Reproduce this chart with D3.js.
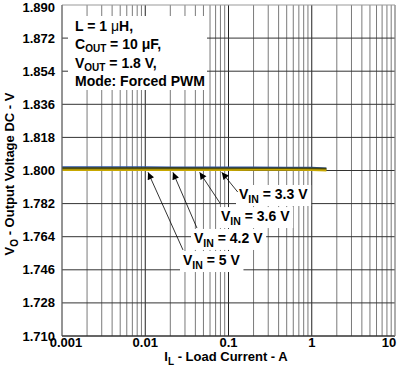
<!DOCTYPE html>
<html><head><meta charset="utf-8">
<script src="https://cdn.jsdelivr.net/npm/d3@7"></script>
<style>
html,body{margin:0;padding:0;background:#fff;}
text{font-family:"Liberation Sans",Arial,sans-serif;font-weight:bold;fill:#000;}
</style></head>
<body><svg id="c" width="409" height="379"></svg>
<script>
// ---- data ----
const currents = [0.001, 0.002, 0.005, 0.01, 0.02, 0.05, 0.1, 0.2, 0.5, 1, 1.5];
const vin5   = [1.8019, 1.8019, 1.8019, 1.8019, 1.8018, 1.8018, 1.8018, 1.8018, 1.8017, 1.8016, 1.8013];
const vin42  = [1.8013, 1.8013, 1.8013, 1.8013, 1.8013, 1.8012, 1.8012, 1.8012, 1.8012, 1.8011, 1.8010];
const vin36  = [1.8007, 1.8007, 1.8007, 1.8007, 1.8007, 1.8007, 1.8007, 1.8007, 1.8007, 1.8006, 1.8005];
const vin33  = [1.8002, 1.8002, 1.8002, 1.8002, 1.8002, 1.8002, 1.8002, 1.8003, 1.8003, 1.8002, 1.8000];
const seriesNames = ["5 V", "4.2 V", "3.6 V", "3.3 V"];
const seriesColors = ["#2a55a8", "#3a3a0c", "#5e5a14", "#c8a800"];
const yTicks = [1.710, 1.728, 1.746, 1.764, 1.782, 1.800, 1.818, 1.836, 1.854, 1.872, 1.890];
const xTicks = [0.001, 0.01, 0.1, 1, 10];
const xTickLabels = ["0.001", "0.01", "0.1", "1", "10"];
const noteLines = [["L = 1 ", "\u03bc", "H,"], ["C", "OUT", " = 10 \u03bcF,"], ["V", "OUT", " = 1.8 V,"], ["Mode: Forced PWM"]];
// callouts: label, arrow tip (current, V), arrow tail (current, V), label start (current, V baseline)
const calloutLabels = ["3.3 V", "3.6 V", "4.2 V", "5 V"];
const calloutTip  = [[0.083, 1.7990], [0.045, 1.7990], [0.0215, 1.7990], [0.0108, 1.7990]];
const calloutTail = [[0.129, 1.7883], [0.079, 1.7823], [0.0418, 1.7687], [0.0284, 1.7568]];
const calloutText = [[0.1337, 1.7845], [0.0813, 1.7725], [0.0385, 1.7606], [0.0284, 1.7486]];

// ---- layout ----
const svg = d3.select("#c");
const L = 62, R = 395, T = 5, B = 336;
const x = d3.scaleLog().domain([0.001, 10]).range([L, R]);
const y = d3.scaleLinear().domain([1.710, 1.890]).range([B, T]);

svg.append("defs").append("marker").attr("id","ah").attr("viewBox","0 0 10 10")
  .attr("refX",10).attr("refY",5).attr("markerWidth",9).attr("markerHeight",7)
  .attr("markerUnits","userSpaceOnUse").attr("orient","auto")
  .append("path").attr("d","M0,0L10,5L0,10z").attr("fill","#000");

// minor vertical grid
const minors = [];
for (let d = -3; d < 1; d++) for (let k = 2; k <= 9; k++) minors.push(k * Math.pow(10, d));
const g = svg.append("g");
g.selectAll(".mv").data(minors).enter().append("line")
  .attr("x1", d => x(d)).attr("x2", d => x(d)).attr("y1", T).attr("y2", B)
  .attr("stroke", "#7a7a7a").attr("stroke-width", 1);
g.selectAll(".dv").data(xTicks).enter().append("line")
  .attr("x1", d => x(d)).attr("x2", d => x(d)).attr("y1", T).attr("y2", B)
  .attr("stroke", d => (d === 0.001 || d === 10) ? "#888" : "#222").attr("stroke-width", 1);
g.selectAll(".hy").data(yTicks).enter().append("line")
  .attr("x1", L).attr("x2", R).attr("y1", d => y(d)).attr("y2", d => y(d))
  .attr("stroke", d => d === 1.890 ? "#999" : "#333").attr("stroke-width", 1);

// note box
svg.append("rect").attr("x", 68).attr("y", 16).attr("width", 139).attr("height", 74).attr("fill", "#fff");
noteLines.forEach((ln, i) => {
  const t = svg.append("text").attr("x", 75).attr("y", 31 + i * 18.3).attr("font-size", 14);
  if (ln.length === 1) t.append("tspan").text(ln[0]);
  else if (i === 0) { t.append("tspan").text(ln[0]); t.append("tspan").attr("font-weight","normal").text(ln[1]); t.append("tspan").text(ln[2]); }
  else {
    t.append("tspan").text(ln[0]);
    t.append("tspan").attr("font-size", 10).attr("dy", 3).text(ln[1]);
    t.append("tspan").attr("dy", -3).text(ln[2]);
  }
});

// series
const line = d3.line().x(d => x(d[0])).y(d => y(d[1]));
[vin5, vin42, vin36, vin33].forEach((vals, i) => {
  svg.append("path").datum(currents.map((c, j) => [c, vals[j]]))
    .attr("d", line).attr("fill", "none").attr("stroke", seriesColors[i]).attr("stroke-width", i === 0 ? 1.4 : 1.8);
});

// callouts
calloutLabels.forEach((lab, i) => {
  const tx = x(calloutText[i][0]), ty = y(calloutText[i][1]);
  const t = svg.append("text").attr("x", tx).attr("y", ty).attr("font-size", 14);
  t.append("tspan").text("V");
  t.append("tspan").attr("font-size", 10.5).attr("dy", 4).text("IN");
  t.append("tspan").attr("dy", -4).text(" = " + lab);
  const bb = t.node().getBBox();
  svg.insert("rect", () => t.node()).attr("x", bb.x - 3).attr("y", bb.y - 1)
    .attr("width", bb.width + 6).attr("height", bb.height + 2).attr("fill", "#fff");
  svg.append("line").attr("x1", x(calloutTail[i][0])).attr("y1", y(calloutTail[i][1]))
    .attr("x2", x(calloutTip[i][0])).attr("y2", y(calloutTip[i][1]))
    .attr("stroke", "#000").attr("stroke-width", 0.8).attr("marker-end", "url(#ah)");
});

// axis lines
svg.append("line").attr("x1", L).attr("x2", L).attr("y1", T).attr("y2", B).attr("stroke", "#666");
svg.append("line").attr("x1", L).attr("x2", R).attr("y1", B).attr("y2", B).attr("stroke", "#333");
svg.append("line").attr("x1", R).attr("x2", R).attr("y1", T).attr("y2", B).attr("stroke", "#999");

// tick labels
svg.selectAll(".yt").data(yTicks).enter().append("text")
  .attr("x", 55).attr("y", d => y(d) + 4.5 + (d === 1.890 ? 2.5 : 0)).attr("text-anchor", "end").attr("font-size", 13)
  .text(d => d.toFixed(3));
svg.selectAll(".xt").data(xTicks).enter().append("text")
  .attr("x", (d, i) => x(d) + (i === 0 ? 4 : i === xTicks.length - 1 ? -6 : 0))
  .attr("y", 347).attr("text-anchor", "middle").attr("font-size", 13)
  .text((d, i) => xTickLabels[i]);

// axis titles
const xt = svg.append("text").attr("x", 226).attr("y", 361).attr("text-anchor", "middle").attr("font-size", 13);
xt.append("tspan").text("I");
xt.append("tspan").attr("font-size", 10).attr("dy", 4).text("L");
xt.append("tspan").attr("dy", -4).text(" - Load Current - A");
const yt = svg.append("text").attr("transform", "translate(14,174) rotate(-90)").attr("text-anchor", "middle").attr("font-size", 13);
yt.append("tspan").text("V");
yt.append("tspan").attr("font-size", 10).attr("dy", 4).text("O");
yt.append("tspan").attr("dy", -4).text(" - Output Voltage DC - V");
</script></body></html>
